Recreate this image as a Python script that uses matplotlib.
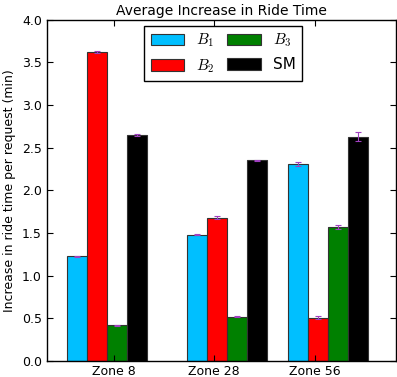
import matplotlib
matplotlib.use("Agg")
import matplotlib.pyplot as plt
import numpy as np

plt.rcParams.update({
    "font.family": "DejaVu Sans",
    "mathtext.fontset": "cm",
    "xtick.direction": "in",
    "ytick.direction": "in",
    "xtick.top": True,
    "ytick.right": True,
    "xtick.major.size": 4,
    "ytick.major.size": 4,
    "axes.linewidth": 1.0,
})

zones = ["Zone 8", "Zone 28", "Zone 56"]
labels = ["$B_1$", "$B_2$", "$B_3$", "SM"]
colors = ["#00BFFF", "#FF0000", "#008000", "#000000"]

b1 = [1.23, 1.48, 2.31]
b2 = [3.62, 1.68, 0.51]
b3 = [0.42, 0.52, 1.57]
sm = [2.65, 2.35, 2.63]

b1_err = [0.005, 0.005, 0.02]
b2_err = [0.01, 0.015, 0.015]
b3_err = [0.005, 0.005, 0.02]
sm_err = [0.01, 0.01, 0.05]

series = [b1, b2, b3, sm]
errors = [b1_err, b2_err, b3_err, sm_err]

# group left edges / tick spots as in the original figure
group_left = np.array([0.0, 1.2, 2.2])
tick_pos = np.array([0.47, 1.47, 2.47])
width = 0.2

fig = plt.figure(figsize=(3.97, 3.77), dpi=100)
ax = fig.add_axes([0.118, 0.042, 0.879, 0.906])

for i, (vals, errs) in enumerate(zip(series, errors)):
    ax.bar(group_left + i * width, vals, width, align="edge", color=colors[i],
           edgecolor="#333333", linewidth=0.8, label=labels[i],
           yerr=errs, error_kw=dict(ecolor="#A040C0", capsize=2.5, elinewidth=0.8,
                                    capthick=0.8))

ax.set_xlim(-0.2, 3.28)
ax.set_ylim(0, 4.0)
yt = np.arange(0, 4.01, 0.5)
ax.set_yticks(yt)
ax.set_yticklabels([f"{v:.1f}" for v in yt], fontsize=9)
ax.set_xticks(tick_pos)
ax.set_xticklabels(zones, fontsize=9)
ax.tick_params(axis="x", pad=3)
ax.set_ylabel("Increase in ride time per request (min)", fontsize=9)
ax.set_title("Average Increase in Ride Time", fontsize=10, pad=3)

ax.legend(loc="upper center", ncol=2, fontsize=11, fancybox=False,
          edgecolor="black", framealpha=1, borderaxespad=0.4,
          handlelength=2.2, handleheight=0.8, columnspacing=0.8,
          bbox_to_anchor=(0.505, 1.0))

fig.savefig("out.png", dpi=100)
